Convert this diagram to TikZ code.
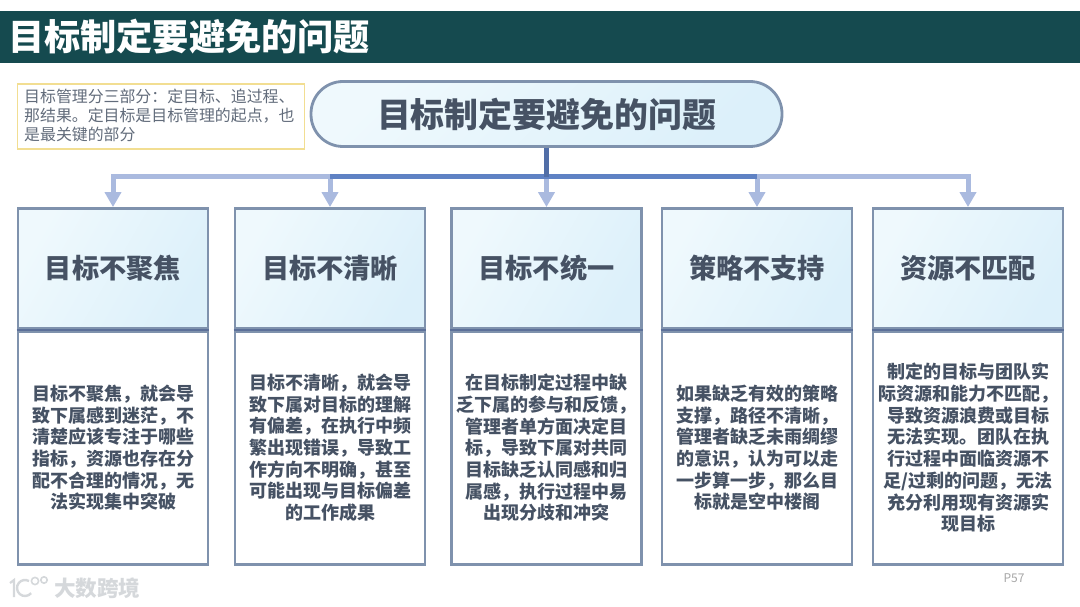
\documentclass[tikz,border=0pt]{standalone}
\usepackage{fontspec}
\setmainfont{Noto Sans CJK SC}
\usetikzlibrary{arrows.meta,positioning}
\definecolor{barteal}{HTML}{154A4F}
\definecolor{inkgray}{HTML}{465264}
\definecolor{edgeblue}{HTML}{7F92AD}
\definecolor{ruleblue}{HTML}{5C7099}
\definecolor{linkpale}{HTML}{AABADF}
\definecolor{linkdark}{HTML}{5F82C4}
\definecolor{notegold}{HTML}{F2DE92}
\definecolor{markgray}{HTML}{D5D8DB}
\definecolor{washpale}{HTML}{EFF9FD}
\definecolor{washblue}{HTML}{DCF0FA}
\newcommand{\fsize}[2]{\fontsize{#1}{#2}\selectfont}
\begin{document}
\begin{tikzpicture}[x=1pt, y=-1pt,
    headbox/.style={draw=edgeblue, line width=2.8pt, left color=washpale, right color=washblue,
        shading angle=60, minimum width=190pt, minimum height=120pt, inner sep=0pt, text=inkgray,
        font=\bfseries\fsize{27.2}{32}},
    bodybox/.style={draw=edgeblue, line width=2.8pt, fill=white, minimum width=190pt, minimum height=233pt,
        inner sep=0pt, align=center, text=inkgray, font=\bfseries\fsize{18}{21.7}},
    rulebar/.style={draw=ruleblue, line width=2.6pt},
    link/.style={draw=linkpale, line width=5pt, -{Triangle[width=16pt,length=15pt]}},
    trunk/.style={draw=linkdark, line width=5pt}]
    \useasboundingbox (0,0) rectangle (1080,607);

    % Title bar
    \fill[barteal] (0,11) rectangle (1080,63);
    \node[anchor=west, inner sep=0pt, text=white, font=\bfseries\fsize{36.2}{44}] (title) at (8,37) {目标制定要避免的问题};

    % Note
    \node[draw=notegold, line width=1.5pt, fill=white, minimum width=287pt, minimum height=65pt, anchor=north west,
        inner sep=0pt] (note) at (16.5,83.5) {};
    \node[anchor=west, inner sep=0pt, align=left, text=inkgray!85!white, font=\fsize{15.9}{19.2}] (notetext) at (24,115.5)
        {目标管理分三部分：定目标、追过程、\\那结果。定目标是目标管理的起点，也\\是最关键的部分};

    % Main pill
    \node[draw=edgeblue, line width=2.8pt, left color=washpale, right color=washblue, shading angle=45,
        rounded corners=32pt, minimum width=471pt, minimum height=65pt, inner sep=0pt, text=inkgray,
        font=\bfseries\fsize{33.9}{44}] (main) at (546.5,114) {目标制定要避免的问题};

    % Headers
    \node[headbox] (heada) at (113,268.5) {目标不聚焦};
    \node[headbox] (headb) at (330,268.5) {目标不清晰};
    \node[headbox] (headc) at (546.5,268.5) {目标不统一};
    \node[headbox] (headd) at (757,268.5) {策略不支持};
    \node[headbox] (heade) at (968,268.5) {资源不匹配};

    % Bodies
    \node[bodybox, below=0pt of heada] (bodya) {目标不聚焦，就会导\\致下属感到迷茫，不\\清楚应该专注于哪些\\指标，资源也存在分\\配不合理的情况，无\\法实现集中突破};
    \node[bodybox, below=0pt of headb] (bodyb) {目标不清晰，就会导\\致下属对目标的理解\\有偏差，在执行中频\\繁出现错误，导致工\\作方向不明确，甚至\\可能出现与目标偏差\\的工作成果};
    \node[bodybox, below=0pt of headc] (bodyc) {在目标制定过程中缺\\乏下属的参与和反馈，\\管理者单方面决定目\\标，导致下属对共同\\目标缺乏认同感和归\\属感，执行过程中易\\出现分歧和冲突};
    \node[bodybox, below=0pt of headd] (bodyd) {如果缺乏有效的策略\\支撑，路径不清晰，\\管理者缺乏未雨绸缪\\的意识，认为可以走\\一步算一步，那么目\\标就是空中楼阁};
    \node[bodybox, below=0pt of heade] (bodye) {制定的目标与团队实\\际资源和能力不匹配，\\导致资源浪费或目标\\无法实现。团队在执\\行过程中面临资源不\\足/过剩的问题，无法\\充分利用现有资源实\\现目标};

    % Header rules
    \draw[rulebar] (heada.south west) -- (heada.south east);
    \draw[rulebar] (headb.south west) -- (headb.south east);
    \draw[rulebar] (headc.south west) -- (headc.south east);
    \draw[rulebar] (headd.south west) -- (headd.south east);
    \draw[rulebar] (heade.south west) -- (heade.south east);

    % Connectors
    \coordinate (hub) at (546.5,177);
    \draw[link] (hub) -| (heada.north);
    \draw[link] (hub) -| (headb.north);
    \draw[link] (hub) -- (headc.north);
    \draw[link] (hub) -| (headd.north);
    \draw[link] (hub) -| (heade.north);
    \draw[trunk] (hub -| headb.north) -- (hub -| headd.north);
    \draw[trunk, draw=linkdark!85!black] (main.south) -- (hub);

    % Watermark
    \draw[markgray, line width=2.2pt] (10,583) -- (14,580) -- (14,597);
    \draw[markgray, line width=2.4pt] (25,588) ++(40:8) arc (40:300:8);
    \draw[markgray, line width=1.6pt] (35,581) circle (3.6);
    \draw[markgray, line width=1.6pt] (44,580) circle (3.2);
    \node[anchor=west, inner sep=0pt, text=markgray, font=\bfseries\fsize{21.6}{24}] (mark) at (54,588) {大数跨境};

    % Page number
    \node[inner sep=0pt, text=black!35, font=\fsize{12}{14}] (page) at (1014,578) {P57};
\end{tikzpicture}
\end{document}
